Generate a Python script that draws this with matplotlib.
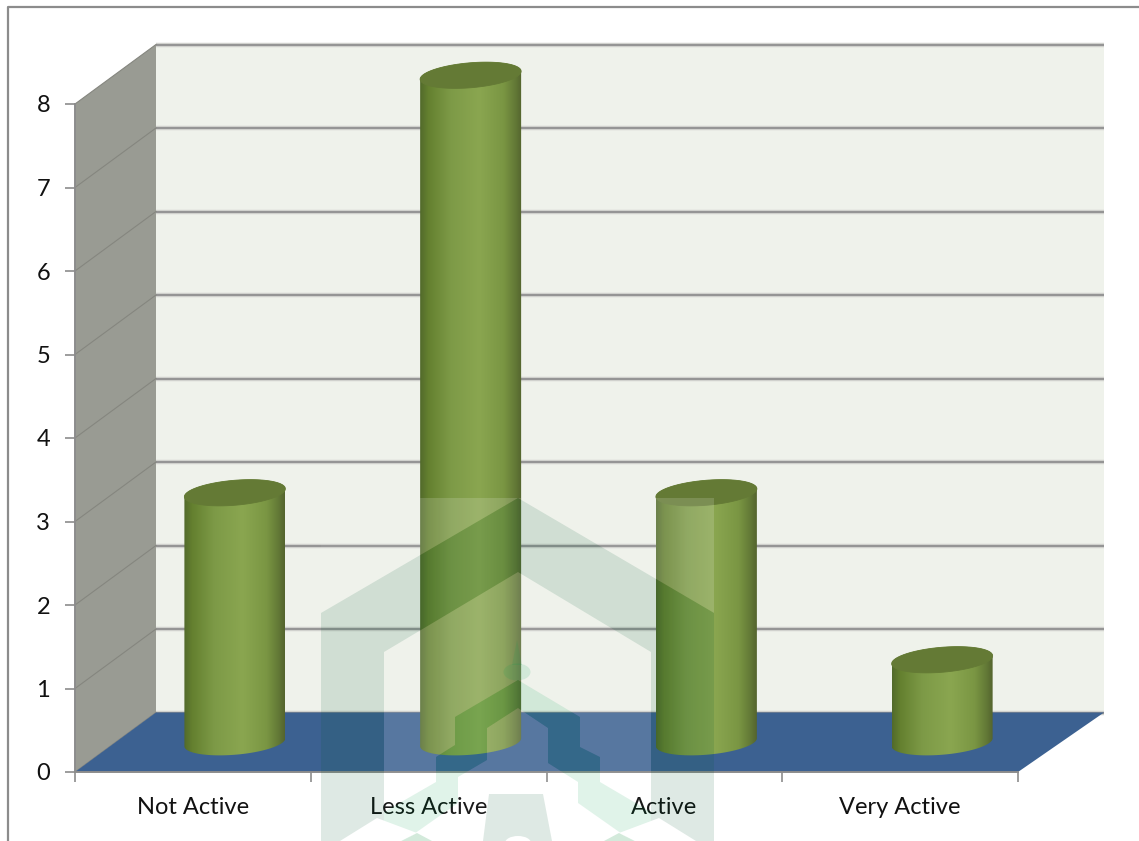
import numpy as np
import matplotlib
matplotlib.use('Agg')
import matplotlib.pyplot as plt
from matplotlib.colors import LinearSegmentedColormap
from matplotlib.patches import Polygon, Ellipse, PathPatch
from matplotlib.path import Path
from matplotlib.lines import Line2D
from matplotlib.transforms import Affine2D

categories = ['Not Active', 'Less Active', 'Active', 'Very Active']
values = [3, 8, 3, 1]
y_ticks = [0, 1, 2, 3, 4, 5, 6, 7, 8]

W, H = 1139, 841
plt.rcParams['font.family'] = ['Lato', 'DejaVu Sans']

fig = plt.figure(figsize=(W / 100, H / 100), dpi=100, facecolor='white')
# axes = front plane of the 3d box
ax = fig.add_axes([75 / W, (H - 772) / H, 943 / W, 668 / H])
ax.set_xlim(-0.5, 3.5)
ax.set_ylim(0, 8)
ax.set_autoscale_on(False)
ax.patch.set_visible(False)

# pixels per unit, used for the fake depth
ux = 943 / 4
uy = 668 / 8
depth_x = 81 / ux
depth_y = 59.5 / uy
right_extra = 5 / ux

# picture pixel coordinates, for frame and watermark
px = Affine2D().scale(1, -1).translate(0, H)

# walls and floor
x0, x1 = -0.5, 3.5
ax.add_patch(Polygon([(x0 + depth_x, depth_y), (x1 + depth_x + right_extra, depth_y),
                      (x1 + depth_x + right_extra, 8 + depth_y), (x0 + depth_x, 8 + depth_y)],
                     fc='#eff2eb', ec='none', clip_on=False, zorder=1))
ax.add_patch(Polygon([(x0, 0), (x0 + depth_x, depth_y), (x0 + depth_x, 8 + depth_y), (x0, 8)],
                     fc='#999b93', ec='none', clip_on=False, zorder=1))

for v in y_ticks:
    ax.plot([x0 + depth_x, x1 + depth_x + right_extra], [v + depth_y, v + depth_y],
            color='#d0d1cd', lw=3.2, clip_on=False, zorder=2, solid_capstyle='butt')
    ax.plot([x0 + depth_x, x1 + depth_x + right_extra], [v + depth_y, v + depth_y],
            color='#8f8f8f', lw=1.3, clip_on=False, zorder=2, solid_capstyle='butt')
    ax.plot([x0, x0 + depth_x], [v, v + depth_y], color='#85867f', lw=0.8,
            clip_on=False, zorder=2)

floor = Polygon([(x0, 0), (x1, 0), (x1 + depth_x + right_extra, depth_y), (x0 + depth_x, depth_y)],
                fc='#3c6191', ec='none', clip_on=False, zorder=3)
ax.add_patch(floor)

# watermark regions, in picture pixels
outer_top = [(321, 613), (518, 498), (714, 613)]
inner_top = [(651, 841), (651, 652), (518, 572), (384, 652), (384, 841)]
chevron = [(518, 680), (580, 717), (580, 747), (600, 757), (600, 782), (651, 812), (651, 841),
           (632, 841), (578, 803), (578, 782), (548, 763), (548, 728), (518, 708), (487, 728),
           (487, 760), (458, 777), (458, 803), (404, 841), (384, 841), (384, 812), (436, 782),
           (436, 757), (455, 745), (455, 717)]
letter = [(489, 794), (543, 794), (552, 841), (483, 841)]


def ring(points):
    return list(points) + [points[0]], [Path.MOVETO] + [Path.LINETO] * (len(points) - 1) + [Path.CLOSEPOLY]


# white wash: two corners above the roof, and the inside with chevron and letter left out
wash_verts, wash_codes = [], []
for part in [[(321, 498), (518, 498), (321, 613)], [(518, 498), (714, 498), (714, 613)],
             inner_top, chevron, letter]:
    v_, c_ = ring(part)
    wash_verts += v_
    wash_codes += c_
wash_path = Path(wash_verts, wash_codes)

# the wash shows more on floor and cylinders than on the pale wall
floor_wash = PathPatch(wash_path, fc='white', alpha=0.11, ec='none', transform=px, zorder=3.5)
ax.add_patch(floor_wash)
floor_wash.set_clip_path(floor)

# cylinders
cyl_cmap = LinearSegmentedColormap.from_list('cyl', [
    (0.0, '#526a2b'), (0.08, '#64802f'), (0.3, '#7d9a47'), (0.58, '#8aa650'),
    (0.82, '#7a9643'), (0.94, '#627836'), (1.0, '#54642e')])
grad = np.linspace(0, 1, 256).reshape(1, -1)

half_w = 50.5 / ux
ell_b = 12.5 / uy
ell_slope = 4.0 / uy
base = depth_y / 2
shift = depth_x / 2 + 1.5 / ux
t = np.linspace(0, 2 * np.pi, 120)

for i, val in enumerate(values):
    cx = i + shift
    top = val + base - 1 / uy
    xs = cx + half_w * np.cos(t)
    # the ellipses lean a little, right side up
    bot_y = base + ell_b * np.sin(t) + ell_slope * np.cos(t)
    top_y = top + ell_b * np.sin(t) + ell_slope * np.cos(t)

    lower = t > np.pi
    outline = list(zip(xs[lower], bot_y[lower])) + list(zip(xs[~lower], top_y[~lower]))
    body = Polygon(outline, closed=True, fc='none', ec='none', transform=ax.transData)
    ax.add_patch(body)
    im = ax.imshow(grad, cmap=cyl_cmap, aspect='auto', zorder=4, interpolation='bilinear',
                   extent=[cx - half_w, cx + half_w, base - 2 * ell_b, top + 2 * ell_b])
    # imshow clips to the axes box by default, the cylinders stick out of it
    im.set_clip_box(fig.bbox)
    im.set_clip_path(body)
    ax.add_patch(Polygon(list(zip(xs, top_y)), fc='#647a35', ec='#647a35', lw=0.6,
                         zorder=5, clip_on=False))
    cyl_wash = PathPatch(wash_path, fc='white', alpha=0.12, ec='none', transform=px, zorder=5.5)
    ax.add_patch(cyl_wash)
    cyl_wash.set_clip_path(body)

ax.set_xlim(-0.5, 3.5)
ax.set_ylim(0, 8)

# axes lines, ticks, labels
for s in ['top', 'right']:
    ax.spines[s].set_visible(False)
for s in ['left', 'bottom']:
    ax.spines[s].set_color('#8c8c8c')
    ax.spines[s].set_linewidth(1.4)
    ax.spines[s].set_zorder(6)
ax.set_yticks(y_ticks)
ax.set_xticks(range(len(categories)))
ax.set_xticklabels(categories)
ax.set_xticks([-0.5, 0.5, 1.5, 2.5, 3.5], minor=True)
ax.tick_params(axis='x', which='major', length=0, pad=18, labelsize=17, labelcolor='#111111')
ax.tick_params(axis='x', which='minor', length=7, width=1.2, color='#8c8c8c')
ax.tick_params(axis='y', length=7, width=1.2, color='#8c8c8c', pad=11, labelsize=17,
               labelcolor='#111111')

# frame of the picture, only top and left are in the crop
fig.add_artist(Line2D([8, 8, W], [H, 6.5, 6.5], color='#8c8c8c', lw=1.6, transform=px))

# watermark on top of everything
band_c = (0, 90 / 255, 50 / 255)
green_c = (0, 160 / 255, 80 / 255)
band = dict(fc=band_c, alpha=0.13, ec='none', transform=px, zorder=10)
green = dict(fc=green_c, alpha=0.12, ec='none', transform=px, zorder=10)

fig.add_artist(PathPatch(wash_path, fc='white', alpha=0.04, ec='none', transform=px, zorder=10))
fig.add_artist(Polygon([(321, 613)] + outer_top[1:] + [(714, 841), (651, 841)] + inner_top[1:]
                       + [(384, 841), (321, 841)], **band))
fig.add_artist(Polygon(chevron, **green))
fig.add_artist(Polygon(letter, **band))
fig.add_artist(Ellipse((517, 672), 27, 17, **green))
fig.add_artist(Polygon([(517, 640), (512, 665), (522, 665)], **green))

# cut-outs at the bottom edge
for cut in [[(340, 841), (377, 818), (417, 833), (401, 841)],
            [(696, 841), (659, 818), (619, 833), (635, 841)]]:
    fig.add_artist(Polygon(cut, fc='white', ec='none', transform=px, zorder=11))
for tip in [[(402, 841), (417, 833), (432, 841)], [(634, 841), (619, 833), (604, 841)]]:
    fig.add_artist(Polygon(tip, fc='#d3eadb', ec='none', transform=px, zorder=12))
fig.add_artist(Ellipse((518, 843), 26, 14, fc='white', ec='none', transform=px, zorder=11))

fig.savefig('out.png', dpi=100)
